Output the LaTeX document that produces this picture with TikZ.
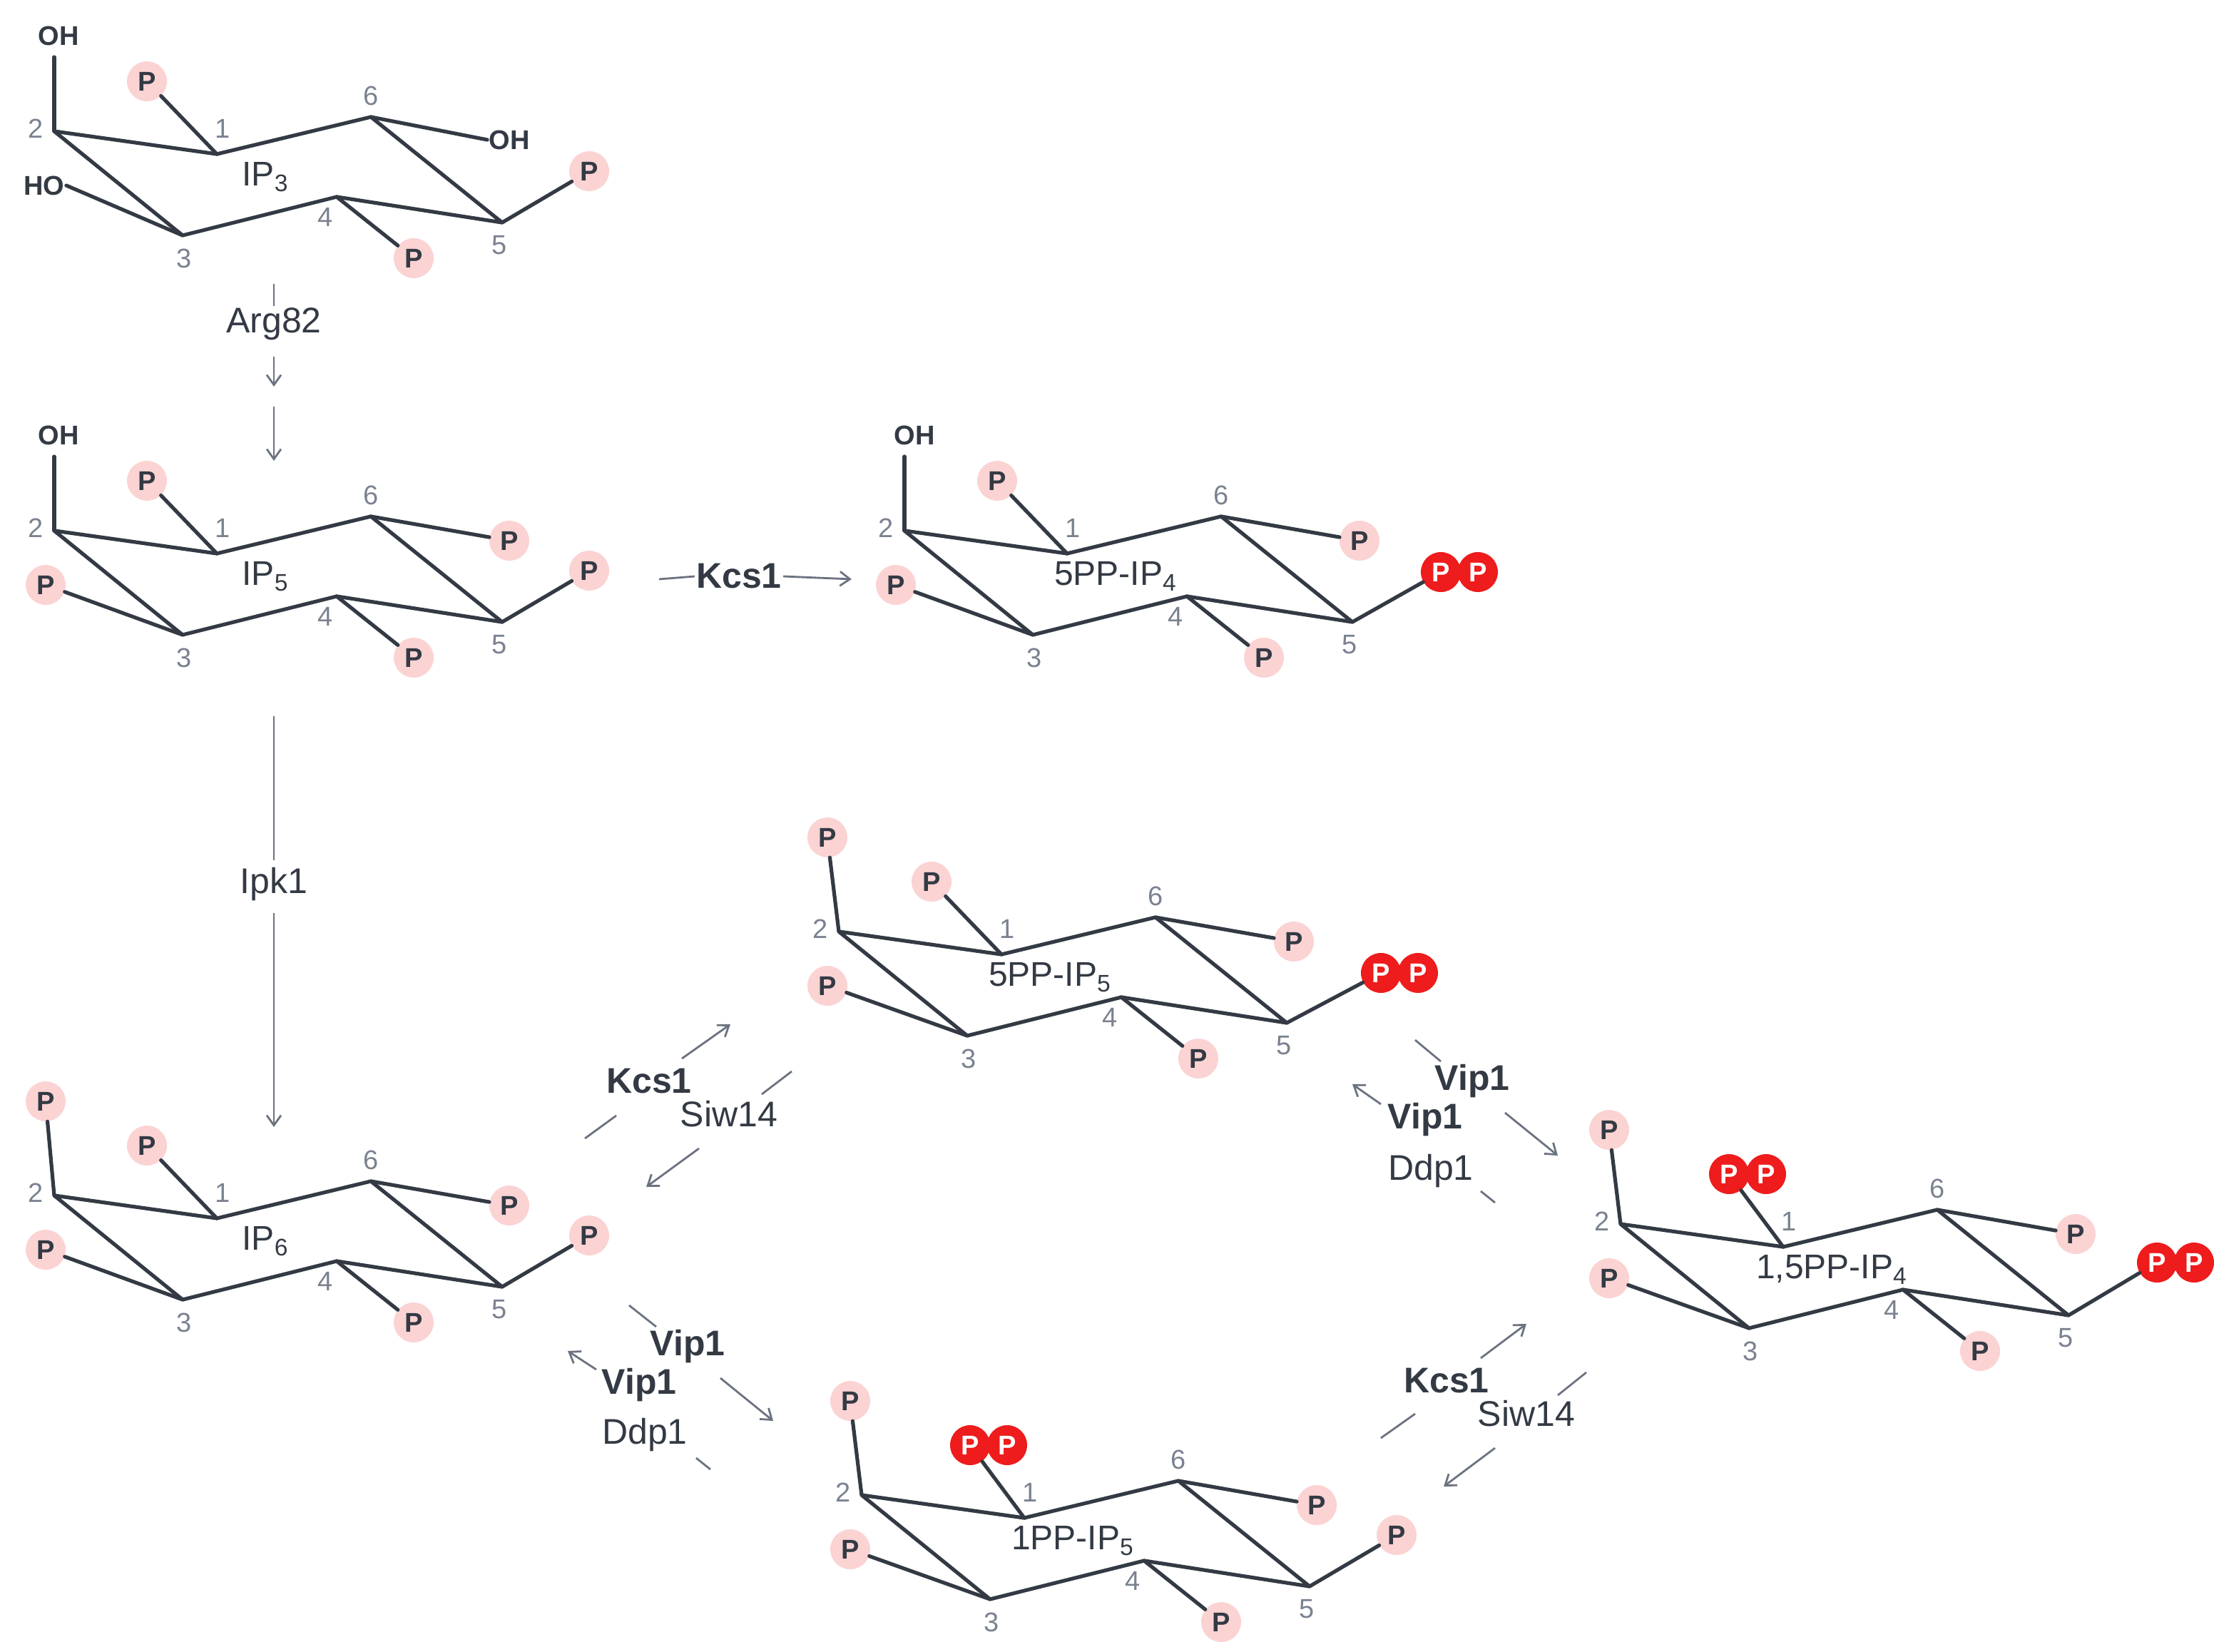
\documentclass[tikz,border=0pt]{standalone}
\usepackage{fontspec}
\setmainfont{Liberation Sans}
\usetikzlibrary{arrows.meta}
\definecolor{bondc}{HTML}{333A44}
\definecolor{numc}{HTML}{7A8290}
\definecolor{pinkc}{HTML}{FBD3D3}
\definecolor{redc}{HTML}{EE1C1C}
\definecolor{arrc}{HTML}{6B7280}
\tikzset{
 bond/.style={line width=2.6pt,color=bondc,line cap=round,line join=round},
 pnode/.style={circle,fill=pinkc,minimum size=28pt,inner sep=0pt,font=\fontsize{19}{19}\selectfont\bfseries,text=bondc},
 ppnode/.style={circle,fill=redc,minimum size=28pt,inner sep=0pt,font=\fontsize{19}{19}\selectfont\bfseries,text=white},
 ohnode/.style={inner sep=1pt,font=\fontsize{19}{19}\selectfont\bfseries,text=bondc},
 num/.style={font=\fontsize{19}{19}\selectfont,text=numc,inner sep=0pt},
 mlabel/.style={font=\fontsize{24}{24}\selectfont,text=bondc,inner sep=0pt},
 enz/.style={font=\fontsize{25}{25}\selectfont,text=bondc,inner sep=1pt},
 enzb/.style={font=\fontsize{25}{25}\selectfont\bfseries,text=bondc,inner sep=1pt},
 arr/.style={line width=1.4pt,color=arrc,-{Straight Barb[length=7pt,width=10pt]}},
 ln/.style={line width=1.4pt,color=arrc},
}
\newcommand\ringbase[1]{%
 \coordinate (c2) at (38,92); \coordinate (c1) at (152,108); \coordinate (c6) at (260,82);
 \coordinate (c5) at (352,156); \coordinate (c4) at (236,138); \coordinate (c3) at (128,165);
 \draw[bond] (c2)--(c1)--(c6)--(c5)--(c4)--(c3)--cycle;
 \node[num] (n2) at (25,90) {2}; \node[num] (n1) at (156,90) {1}; \node[num] (n6) at (260,67) {6};
 \node[num] (n5) at (350,172) {5}; \node[num] (n4) at (228,152) {4}; \node[num] (n3) at (129,181) {3};
 \node[mlabel] (lab) at (186,124) {#1};}
\begin{document}
\begin{tikzpicture}[x=1pt,y=-1pt]
\useasboundingbox (0,0) rectangle (1552,1158);
% IP3
\begin{scope}[shift={(0,0)},name prefix=a-]
\ringbase{IP\textsubscript{3}}
\node[ohnode] (s2) at (41,25) {OH}; \draw[bond] (c2)--(38,40);
\node[pnode] (s1) at (103,57) {P}; \draw[bond] (c1)--(s1);
\node[ohnode] (s6) at (357,98) {OH}; \draw[bond] (c6)--(s6.west);
\node[pnode] (s5) at (413,120) {P}; \draw[bond] (c5)--(s5);
\node[pnode] (s4) at (290,181) {P}; \draw[bond] (c4)--(s4);
\node[ohnode] (s3) at (31,130) {HO}; \draw[bond] (c3)--(s3.east);
\end{scope}
% IP5
\begin{scope}[shift={(0,280)},name prefix=b-]
\ringbase{IP\textsubscript{5}}
\node[ohnode] (s2) at (41,25) {OH}; \draw[bond] (c2)--(38,40);
\node[pnode] (s1) at (103,57) {P}; \draw[bond] (c1)--(s1);
\node[pnode] (s6) at (357,99) {P}; \draw[bond] (c6)--(s6);
\node[pnode] (s5) at (413,120) {P}; \draw[bond] (c5)--(s5);
\node[pnode] (s4) at (290,181) {P}; \draw[bond] (c4)--(s4);
\node[pnode] (s3) at (32,130) {P}; \draw[bond] (c3)--(s3);
\end{scope}
% 5PP-IP4
\begin{scope}[shift={(596,280)},name prefix=c-]
\ringbase{5PP-IP\textsubscript{4}}
\node[ohnode] (s2) at (45,25) {OH}; \draw[bond] (c2)--(38,40);
\node[pnode] (s1) at (103,57) {P}; \draw[bond] (c1)--(s1);
\node[pnode] (s6) at (357,99) {P}; \draw[bond] (c6)--(s6);
\node[ppnode] (s5b) at (440,121) {P};
\node[ppnode] (s5) at (414,121) {P}; \draw[bond] (c5)--(s5);
\node[pnode] (s4) at (290,181) {P}; \draw[bond] (c4)--(s4);
\node[pnode] (s3) at (32,130) {P}; \draw[bond] (c3)--(s3);
\end{scope}
% 5PP-IP5
\begin{scope}[shift={(550,561)},name prefix=d-]
\ringbase{5PP-IP\textsubscript{5}}
\node[pnode] (s2) at (30,26) {P}; \draw[bond] (c2)--(s2);
\node[pnode] (s1) at (103,57) {P}; \draw[bond] (c1)--(s1);
\node[pnode] (s6) at (357,99) {P}; \draw[bond] (c6)--(s6);
\node[ppnode] (s5b) at (444,121) {P};
\node[ppnode] (s5) at (418,121) {P}; \draw[bond] (c5)--(s5);
\node[pnode] (s4) at (290,181) {P}; \draw[bond] (c4)--(s4);
\node[pnode] (s3) at (30,130) {P}; \draw[bond] (c3)--(s3);
\end{scope}
% IP6
\begin{scope}[shift={(0,746)},name prefix=e-]
\ringbase{IP\textsubscript{6}}
\node[pnode] (s2) at (32,26) {P}; \draw[bond] (c2)--(s2);
\node[pnode] (s1) at (103,57) {P}; \draw[bond] (c1)--(s1);
\node[pnode] (s6) at (357,99) {P}; \draw[bond] (c6)--(s6);
\node[pnode] (s5) at (413,120) {P}; \draw[bond] (c5)--(s5);
\node[pnode] (s4) at (290,181) {P}; \draw[bond] (c4)--(s4);
\node[pnode] (s3) at (32,130) {P}; \draw[bond] (c3)--(s3);
\end{scope}
% 1PP-IP5
\begin{scope}[shift={(566,956)},name prefix=f-]
\ringbase{1PP-IP\textsubscript{5}}
\node[pnode] (s2) at (30,26) {P}; \draw[bond] (c2)--(s2);
\node[ppnode] (s1b) at (140,57) {P};
\node[ppnode] (s1) at (114,57) {P}; \draw[bond] (c1)--(s1);
\node[pnode] (s6) at (357,99) {P}; \draw[bond] (c6)--(s6);
\node[pnode] (s5) at (413,120) {P}; \draw[bond] (c5)--(s5);
\node[pnode] (s4) at (290,181) {P}; \draw[bond] (c4)--(s4);
\node[pnode] (s3) at (30,130) {P}; \draw[bond] (c3)--(s3);
\end{scope}
% 1,5PP-IP4
\begin{scope}[shift={(1098,766)},name prefix=g-]
\ringbase{1,5PP-IP\textsubscript{4}}
\node[pnode] (s2) at (30,26) {P}; \draw[bond] (c2)--(s2);
\node[ppnode] (s1b) at (140,57) {P};
\node[ppnode] (s1) at (114,57) {P}; \draw[bond] (c1)--(s1);
\node[pnode] (s6) at (357,99) {P}; \draw[bond] (c6)--(s6);
\node[ppnode] (s5b) at (440,119) {P};
\node[ppnode] (s5) at (414,119) {P}; \draw[bond] (c5)--(s5);
\node[pnode] (s4) at (290,181) {P}; \draw[bond] (c4)--(s4);
\node[pnode] (s3) at (30,130) {P}; \draw[bond] (c3)--(s3);
\end{scope}
% Arg82
\node[enz] (arg) at (192,227) {Arg82};
\coordinate (t1) at (192,199); \draw[ln] (t1)--(arg.north);
\coordinate (t2) at (192,250); \coordinate (t3) at (192,271); \draw[arr] (t2)--(t3);
\coordinate (t4) at (192,285); \coordinate (t5) at (192,323); \draw[arr] (t4)--(t5);
% Kcs1 horizontal
\node[enzb] (k1) at (518,404) {Kcs1};
\coordinate (k1a) at (462,406); \draw[ln] (k1a)--(k1.west);
\coordinate (k1b) at (597,406); \draw[arr] (k1.east)--(k1b);
% Ipk1
\node[enz] (ipk) at (192,620) {Ipk1};
\coordinate (i1) at (192,502); \draw[ln] (i1)--(192,603);
\coordinate (i2) at (192,640); \coordinate (i3) at (192,790); \draw[arr] (i2)--(i3);
% Kcs1/Siw14 upper left
\node[enzb] (k2) at (455,758) {Kcs1};
\node[enz] (w2) at (511,781) {Siw14};
\coordinate (k2a) at (410,798); \coordinate (k2b) at (432,782); \draw[ln] (k2a)--(k2b);
\coordinate (k2c) at (478,742); \coordinate (k2d) at (512,718); \draw[arr] (k2c)--(k2d);
\coordinate (w2a) at (555,751); \coordinate (w2b) at (534,767); \draw[ln] (w2a)--(w2b);
\coordinate (w2c) at (490,805); \coordinate (w2d) at (453,832); \draw[arr] (w2c)--(w2d);
% Vip1/Ddp1 lower left
\node[enzb] (v3) at (482,944) {Vip1};
\node[enzb] (v3b) at (448,971) {Vip1};
\node[enz] (d3) at (452,1006) {Ddp1};
\coordinate (v3a) at (441,915); \coordinate (v3c) at (460,930); \draw[ln] (v3a)--(v3c);
\coordinate (v3d) at (505,966); \coordinate (v3e) at (542,996); \draw[arr] (v3d)--(v3e);
\coordinate (v3f) at (418,960); \coordinate (v3g) at (398,947); \draw[arr] (v3f)--(v3g);
\coordinate (d3a) at (488,1022); \coordinate (d3b) at (498,1030); \draw[ln] (d3a)--(d3b);
% Vip1/Ddp1 upper right
\node[enzb] (v4) at (1032,758) {Vip1};
\node[enzb] (v4b) at (999,785) {Vip1};
\node[enz] (d4) at (1003,821) {Ddp1};
\coordinate (v4a) at (992,729); \coordinate (v4c) at (1010,744); \draw[ln] (v4a)--(v4c);
\coordinate (v4d) at (1055,780); \coordinate (v4e) at (1092,810); \draw[arr] (v4d)--(v4e);
\coordinate (v4f) at (968,774); \coordinate (v4g) at (948,760); \draw[arr] (v4f)--(v4g);
\coordinate (d4a) at (1038,835); \coordinate (d4b) at (1048,843); \draw[ln] (d4a)--(d4b);
% Kcs1/Siw14 lower right
\node[enzb] (k5) at (1014,968) {Kcs1};
\node[enz] (w5) at (1070,991) {Siw14};
\coordinate (k5a) at (968,1008); \coordinate (k5b) at (992,991); \draw[ln] (k5a)--(k5b);
\coordinate (k5c) at (1038,952); \coordinate (k5d) at (1070,928); \draw[arr] (k5c)--(k5d);
\coordinate (w5a) at (1112,962); \coordinate (w5b) at (1092,978); \draw[ln] (w5a)--(w5b);
\coordinate (w5c) at (1048,1015); \coordinate (w5d) at (1012,1042); \draw[arr] (w5c)--(w5d);
\end{tikzpicture}
\end{document}
